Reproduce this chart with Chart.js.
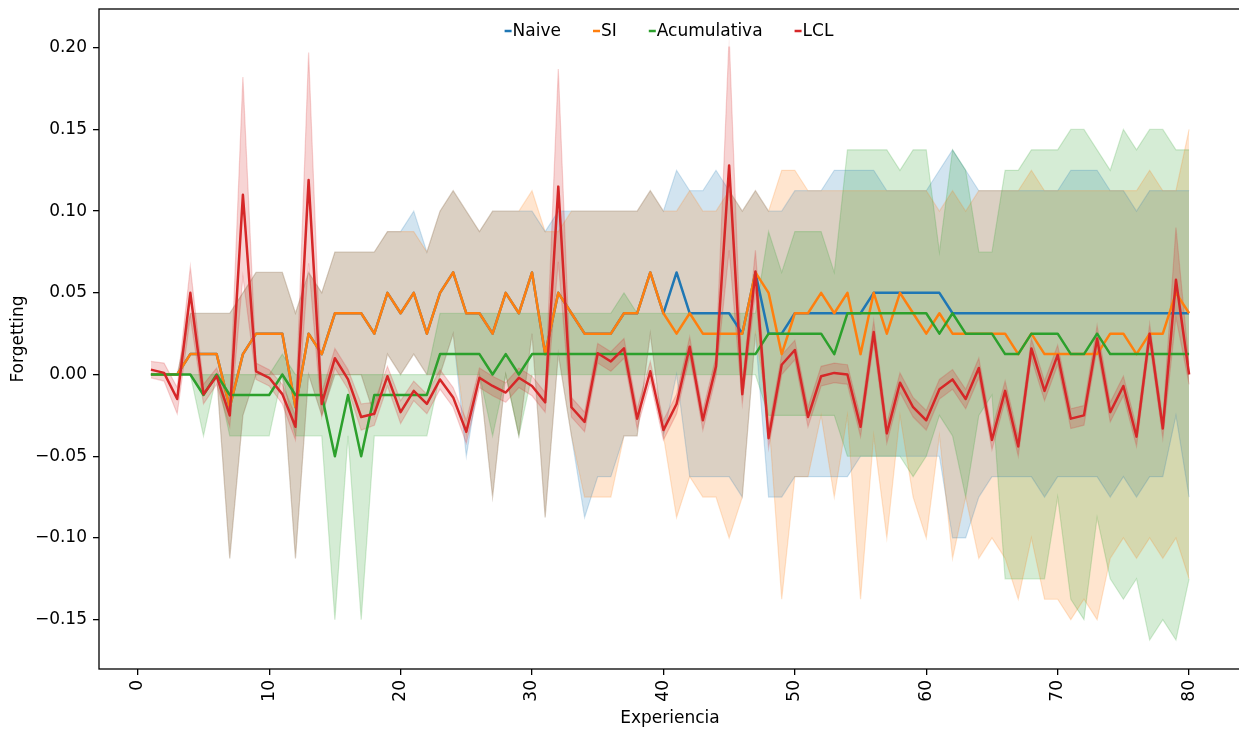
<!DOCTYPE html>
<html>
<head>
<meta charset="utf-8">
<title>Forgetting por experiencia</title>
<script src="https://cdn.jsdelivr.net/npm/chart.js@4/dist/chart.umd.min.js"></script>
<style>
  html, body { margin: 0; padding: 0; background: #fff; overflow: hidden; width: 1239px; height: 730px; }
  canvas { display: block; }
</style>
</head>
<body>
<canvas id="chart" width="1241" height="730"></canvas>
<script>
// Experience index (x axis)
const experiences = [
  1, 2, 3, 4, 5, 6, 7, 8, 9, 10, 11, 12, 13, 14, 15, 16, 17, 18, 19, 20,
  21, 22, 23, 24, 25, 26, 27, 28, 29, 30, 31, 32, 33, 34, 35, 36, 37, 38, 39, 40,
  41, 42, 43, 44, 45, 46, 47, 48, 49, 50, 51, 52, 53, 54, 55, 56, 57, 58, 59, 60,
  61, 62, 63, 64, 65, 66, 67, 68, 69, 70, 71, 72, 73, 74, 75, 76, 77, 78, 79, 80
];

const xTicks = [0, 10, 20, 30, 40, 50, 60, 70, 80];
const yTicks = [-0.15, -0.10, -0.05, 0.00, 0.05, 0.10, 0.15, 0.20];

// Mean forgetting per method
const naive = [
  0, 0, 0, 0.0125, 0.0125, 0.0125, -0.02, 0.0125, 0.025, 0.025,
  0.025, -0.02, 0.025, 0.0125, 0.0375, 0.0375, 0.0375, 0.025, 0.05, 0.0375,
  0.05, 0.025, 0.05, 0.0625, 0.0375, 0.0375, 0.025, 0.05, 0.0375, 0.0625,
  0.0125, 0.05, 0.0375, 0.025, 0.025, 0.025, 0.0375, 0.0375, 0.0625, 0.0375,
  0.0625, 0.0375, 0.0375, 0.0375, 0.0375, 0.025, 0.0625, 0.025, 0.025, 0.0375,
  0.0375, 0.0375, 0.0375, 0.0375, 0.0375, 0.05, 0.05, 0.05, 0.05, 0.05,
  0.05, 0.0375, 0.0375, 0.0375, 0.0375, 0.0375, 0.0375, 0.0375, 0.0375, 0.0375,
  0.0375, 0.0375, 0.0375, 0.0375, 0.0375, 0.0375, 0.0375, 0.0375, 0.0375, 0.0375
];
const si = [
  0, 0, 0, 0.0125, 0.0125, 0.0125, -0.02, 0.0125, 0.025, 0.025,
  0.025, -0.02, 0.025, 0.0125, 0.0375, 0.0375, 0.0375, 0.025, 0.05, 0.0375,
  0.05, 0.025, 0.05, 0.0625, 0.0375, 0.0375, 0.025, 0.05, 0.0375, 0.0625,
  0.0125, 0.05, 0.0375, 0.025, 0.025, 0.025, 0.0375, 0.0375, 0.0625, 0.0375,
  0.025, 0.0375, 0.025, 0.025, 0.025, 0.025, 0.0625, 0.05, 0.0125, 0.0375,
  0.0375, 0.05, 0.0375, 0.05, 0.0125, 0.05, 0.025, 0.05, 0.0375, 0.025,
  0.0375, 0.025, 0.025, 0.025, 0.025, 0.025, 0.0125, 0.025, 0.0125, 0.0125,
  0.0125, 0.0125, 0.0125, 0.025, 0.025, 0.0125, 0.025, 0.025, 0.05, 0.0375
];
const acumulativa = [
  0, 0, 0, 0, -0.0125, 0, -0.0125, -0.0125, -0.0125, -0.0125,
  0, -0.0125, -0.0125, -0.0125, -0.05, -0.0125, -0.05, -0.0125, -0.0125, -0.0125,
  -0.0125, -0.0125, 0.0125, 0.0125, 0.0125, 0.0125, 0, 0.0125, 0, 0.0125,
  0.0125, 0.0125, 0.0125, 0.0125, 0.0125, 0.0125, 0.0125, 0.0125, 0.0125, 0.0125,
  0.0125, 0.0125, 0.0125, 0.0125, 0.0125, 0.0125, 0.0125, 0.025, 0.025, 0.025,
  0.025, 0.025, 0.0125, 0.0375, 0.0375, 0.0375, 0.0375, 0.0375, 0.0375, 0.0375,
  0.025, 0.0375, 0.025, 0.025, 0.025, 0.0125, 0.0125, 0.025, 0.025, 0.025,
  0.0125, 0.0125, 0.025, 0.0125, 0.0125, 0.0125, 0.0125, 0.0125, 0.0125, 0.0125
];
const lcl = [
  0.003, 0.001, -0.015, 0.05, -0.012, -0.001, -0.025, 0.11, 0.002, -0.002,
  -0.012, -0.032, 0.119, -0.018, 0.01, -0.003, -0.026, -0.024, -0.001, -0.023,
  -0.01, -0.018, -0.003, -0.014, -0.035, -0.002, -0.007, -0.011, -0.002, -0.007,
  -0.017, 0.115, -0.02, -0.029, 0.013, 0.008, 0.016, -0.027, 0.002, -0.034,
  -0.018, 0.017, -0.028, 0.005, 0.128, -0.012, 0.063, -0.039, 0.006, 0.015,
  -0.026, -0.001, 0.001, 0.0, -0.032, 0.026, -0.036, -0.005, -0.02, -0.028,
  -0.009, -0.003, -0.015, 0.004, -0.04, -0.01, -0.044, 0.016, -0.01, 0.012,
  -0.027, -0.025, 0.022, -0.023, -0.007, -0.038, 0.025, -0.033, 0.058, 0.0
];

// Confidence band limits per method
const naiveUpper = [
  0, 0, 0, 0.0375, 0.0375, 0.0375, 0.0375, 0.05, 0.0625, 0.0625,
  0.0625, 0.0375, 0.0625, 0.05, 0.075, 0.075, 0.075, 0.075, 0.0875, 0.0875,
  0.1, 0.075, 0.1, 0.1125, 0.1, 0.0875, 0.1, 0.1, 0.1, 0.1,
  0.0875, 0.1, 0.1, 0.1, 0.1, 0.1, 0.1, 0.1, 0.1125, 0.1,
  0.125, 0.1125, 0.1125, 0.125, 0.1125, 0.1, 0.1125, 0.1, 0.1, 0.1125,
  0.1125, 0.1125, 0.125, 0.125, 0.125, 0.125, 0.1125, 0.1125, 0.1125, 0.1125,
  0.125, 0.1375, 0.125, 0.1125, 0.1125, 0.1125, 0.1125, 0.1125, 0.1125, 0.1125,
  0.125, 0.125, 0.125, 0.1125, 0.1125, 0.1, 0.1125, 0.1125, 0.1125, 0.1125
];
const naiveLower = [
  0, 0, 0, 0, -0.0125, 0, -0.1125, -0.025, 0, 0,
  0, -0.1125, 0, -0.025, 0, 0, 0, -0.025, 0.0125, 0,
  0.0125, 0, 0, 0.025, -0.05, 0, -0.075, 0, -0.0375, 0.025,
  -0.0875, 0.0125, -0.0375, -0.0875, -0.0625, -0.0625, -0.0375, -0.0375, 0.025, -0.0375,
  0, -0.0625, -0.0625, -0.0625, -0.0625, -0.075, 0.025, -0.075, -0.075, -0.0625,
  -0.0625, -0.0625, -0.0625, -0.0625, -0.05, -0.05, -0.05, -0.05, -0.05, -0.05,
  -0.05, -0.1, -0.1, -0.075, -0.0625, -0.0625, -0.0625, -0.0625, -0.075, -0.0625,
  -0.0625, -0.0625, -0.0625, -0.075, -0.0625, -0.075, -0.0625, -0.0625, -0.025, -0.075
];
const siUpper = [
  0, 0, 0, 0.0375, 0.0375, 0.0375, 0.0375, 0.05, 0.0625, 0.0625,
  0.0625, 0.0375, 0.0625, 0.05, 0.075, 0.075, 0.075, 0.075, 0.0875, 0.0875,
  0.0875, 0.075, 0.1, 0.1125, 0.1, 0.0875, 0.1, 0.1, 0.1, 0.1125,
  0.0875, 0.0875, 0.1, 0.1, 0.1, 0.1, 0.1, 0.1, 0.1125, 0.1,
  0.1, 0.1125, 0.1, 0.1, 0.1125, 0.1, 0.1125, 0.1, 0.125, 0.125,
  0.1125, 0.1125, 0.1125, 0.1125, 0.1125, 0.1125, 0.1125, 0.1125, 0.1125, 0.1125,
  0.1, 0.1125, 0.1, 0.1125, 0.1125, 0.1125, 0.1125, 0.125, 0.1125, 0.1125,
  0.1125, 0.1125, 0.1125, 0.1125, 0.1125, 0.1125, 0.125, 0.1125, 0.1125, 0.15
];
const siLower = [
  0, 0, 0, 0, -0.0125, 0, -0.1125, -0.025, 0, 0,
  0, -0.1125, 0, -0.025, 0, 0, 0, -0.025, 0.0125, 0,
  0.0125, 0, 0, 0.025, -0.0375, 0, -0.075, 0, -0.0375, 0.025,
  -0.0875, 0.0125, -0.0375, -0.075, -0.075, -0.075, -0.0375, -0.0375, 0.025, -0.0375,
  -0.0875, -0.0625, -0.075, -0.075, -0.1, -0.075, 0.025, -0.025, -0.1375, -0.0625,
  -0.0625, -0.025, -0.075, -0.025, -0.1375, -0.0375, -0.1, -0.025, -0.075, -0.1,
  -0.0375, -0.1125, -0.075, -0.1125, -0.1, -0.1125, -0.1375, -0.1, -0.1375, -0.1375,
  -0.15, -0.1375, -0.15, -0.1125, -0.1, -0.1125, -0.1, -0.1125, -0.1, -0.125
];
const acumulativaUpper = [
  0, 0, 0, 0, 0, 0, 0, 0, 0, 0,
  0.0125, 0, 0, 0, 0, 0, 0, 0, 0, 0,
  0, 0, 0.0375, 0.0375, 0.0375, 0.0375, 0.0375, 0.0375, 0.0375, 0.0375,
  0.0375, 0.0375, 0.0375, 0.0375, 0.0375, 0.0375, 0.05, 0.0375, 0.0375, 0.0375,
  0.0375, 0.0375, 0.0375, 0.0375, 0.0375, 0.0375, 0.0375, 0.0875, 0.0625, 0.0875,
  0.0875, 0.0875, 0.0625, 0.1375, 0.1375, 0.1375, 0.1375, 0.125, 0.1375, 0.1375,
  0.075, 0.1375, 0.125, 0.075, 0.075, 0.125, 0.125, 0.1375, 0.1375, 0.1375,
  0.15, 0.15, 0.1375, 0.125, 0.15, 0.1375, 0.15, 0.15, 0.1375, 0.1375
];
const acumulativaLower = [
  0, 0, 0, 0, -0.0375, 0, -0.0375, -0.0375, -0.0375, -0.0375,
  0, -0.0375, -0.0375, -0.0375, -0.15, -0.0375, -0.15, -0.0375, -0.0375, -0.0375,
  -0.0375, -0.0375, 0, 0, 0, 0, -0.0375, 0, -0.0375, 0,
  0, 0, 0, 0, 0, 0, 0, 0, 0, 0,
  0, 0, 0, 0, 0, 0, 0, -0.025, -0.025, -0.025,
  -0.025, -0.025, -0.025, -0.05, -0.05, -0.05, -0.05, -0.05, -0.0625, -0.05,
  -0.025, -0.0375, -0.075, -0.025, -0.0125, -0.125, -0.125, -0.125, -0.125, -0.075,
  -0.1375, -0.15, -0.0875, -0.125, -0.1375, -0.125, -0.1625, -0.15, -0.1625, -0.125
];
const lclUpper = [
  0.008, 0.007, -0.008, 0.066, -0.006, 0.004, -0.018, 0.182, 0.007, 0.003,
  -0.006, -0.025, 0.197, -0.011, 0.016, 0.003, -0.018, -0.017, 0.005, -0.016,
  -0.004, -0.012, 0.003, -0.008, -0.028, 0.004, -0.001, -0.005, 0.004, -0.001,
  -0.011, 0.187, -0.014, -0.023, 0.019, 0.014, 0.022, -0.021, 0.008, -0.028,
  -0.012, 0.023, -0.022, 0.011, 0.207, -0.006, 0.076, -0.033, 0.012, 0.021,
  -0.02, 0.005, 0.007, 0.006, -0.026, 0.033, -0.03, 0.001, -0.014, -0.022,
  -0.003, 0.003, -0.009, 0.01, -0.034, -0.004, -0.038, 0.022, -0.004, 0.018,
  -0.021, -0.019, 0.03, -0.017, -0.001, -0.032, 0.031, -0.027, 0.09, 0.006
];
const lclLower = [
  -0.002, -0.004, -0.024, 0.035, -0.018, -0.006, -0.032, 0.06, -0.003, -0.007,
  -0.018, -0.04, 0.068, -0.026, 0.004, -0.009, -0.034, -0.031, -0.007, -0.03,
  -0.016, -0.024, -0.009, -0.02, -0.042, -0.008, -0.013, -0.017, -0.008, -0.013,
  -0.023, 0.069, -0.026, -0.035, 0.007, 0.002, 0.01, -0.033, -0.004, -0.04,
  -0.024, 0.011, -0.034, -0.001, 0.076, -0.018, 0.05, -0.045, 0, 0.009,
  -0.032, -0.007, -0.005, -0.006, -0.038, 0.019, -0.042, -0.011, -0.026, -0.034,
  -0.015, -0.009, -0.021, -0.002, -0.046, -0.016, -0.05, 0.01, -0.016, 0.006,
  -0.033, -0.031, 0.016, -0.029, -0.013, -0.044, 0.019, -0.039, 0.035, -0.006
];

const FONT_FAMILY = '"DejaVu Sans", "Liberation Sans", sans-serif';
const TEXT_SIZE = 17;
const RGB = {
  Naive: '31,119,180',
  SI: '255,127,14',
  Acumulativa: '44,160,44',
  LCL: '214,39,40'
};
const legendOrder = ['Naive', 'SI', 'Acumulativa', 'LCL'];

function toPoints(values) {
  return values.map((v, i) => ({ x: experiences[i], y: v }));
}

function meanLine(label, values) {
  return {
    label,
    data: toPoints(values),
    borderColor: `rgb(${RGB[label]})`,
    backgroundColor: `rgb(${RGB[label]})`,
    borderWidth: 2.5,
    borderJoinStyle: 'round',
    borderCapStyle: 'butt',
    pointRadius: 0,
    pointHoverRadius: 0,
    tension: 0,
    fill: false
  };
}

function bandEdge(label, values, fillToNext) {
  return {
    label: label + (fillToNext ? ' sup' : ' inf'),
    data: toPoints(values),
    borderColor: `rgba(${RGB[label]},0.2)`,
    backgroundColor: `rgba(${RGB[label]},0.2)`,
    borderWidth: 1.2,
    pointRadius: 0,
    pointHoverRadius: 0,
    tension: 0,
    fill: fillToNext ? '+1' : false
  };
}

// Lines first (drawn last, on top); bands afterwards, Naive band painted first.
const datasets = [
  meanLine('LCL', lcl),
  meanLine('Acumulativa', acumulativa),
  meanLine('SI', si),
  meanLine('Naive', naive),
  bandEdge('LCL', lclUpper, true),
  bandEdge('LCL', lclLower, false),
  bandEdge('Acumulativa', acumulativaUpper, true),
  bandEdge('Acumulativa', acumulativaLower, false),
  bandEdge('SI', siUpper, true),
  bandEdge('SI', siLower, false),
  bandEdge('Naive', naiveUpper, true),
  bandEdge('Naive', naiveLower, false)
];

// Frame on all four sides of the plotting area
const framePlugin = {
  id: 'frame',
  afterDatasetsDraw(chart) {
    const { ctx, chartArea: a } = chart;
    ctx.save();
    ctx.strokeStyle = '#000';
    ctx.lineWidth = 1.3;
    ctx.strokeRect(a.left, a.top, a.right - a.left, a.bottom - a.top);
    ctx.restore();
  }
};

// Compact one-row legend centred at the top inside the plot
const innerLegendPlugin = {
  id: 'innerLegend',
  afterDraw(chart) {
    const { ctx, chartArea: a } = chart;
    ctx.save();
    ctx.font = `${TEXT_SIZE}px ${FONT_FAMILY}`;
    ctx.textBaseline = 'middle';
    ctx.textAlign = 'left';
    const handle = 7, handleGap = 1, itemGap = 32;
    const widths = legendOrder.map(t => handle + handleGap + ctx.measureText(t).width);
    const total = widths.reduce((s, w) => s + w, 0) + itemGap * (legendOrder.length - 1);
    const cx = (a.left + 1239) / 2;
    const cy = a.top + 22;
    let x = cx - total / 2;
    ctx.fillStyle = 'rgba(255,255,255,0.8)';
    ctx.fillRect(x - 8, cy - 16, total + 16, 31.5);
    legendOrder.forEach((label, i) => {
      ctx.strokeStyle = `rgb(${RGB[label]})`;
      ctx.lineWidth = 2.5;
      ctx.beginPath();
      ctx.moveTo(x, cy);
      ctx.lineTo(x + handle, cy);
      ctx.stroke();
      ctx.fillStyle = '#000';
      ctx.fillText(label, x + handle + handleGap, cy + 1);
      x += widths[i] + itemGap;
    });
    ctx.restore();
  }
};

const tickFont = { family: FONT_FAMILY, size: TEXT_SIZE };

new Chart(document.getElementById('chart'), {
  type: 'line',
  data: { datasets },
  options: {
    responsive: false,
    animation: false,
    devicePixelRatio: 1,
    events: [],
    layout: { padding: { top: 9, left: 0, right: 0, bottom: 0 } },
    plugins: {
      legend: { display: false },
      tooltip: { enabled: false },
      filler: { drawTime: 'beforeDatasetsDraw', propagate: false }
    },
    scales: {
      x: {
        type: 'linear',
        min: -2.95,
        max: 83.95,
        afterBuildTicks(scale) { scale.ticks = xTicks.map(v => ({ value: v })); },
        afterFit(scale) {
          scale.height = 61;
          scale.paddingLeft = 0;
          scale.paddingRight = 0;
        },
        ticks: {
          autoSkip: false,
          minRotation: 90,
          maxRotation: 90,
          padding: 5,
          color: '#000',
          font: tickFont,
          callback: v => String(v)
        },
        grid: {
          display: true,
          drawOnChartArea: false,
          drawTicks: true,
          tickLength: 6,
          color: '#000',
          lineWidth: 1.3
        },
        border: { display: false },
        title: {
          display: true,
          text: 'Experiencia',
          color: '#000',
          font: tickFont,
          padding: { top: 0, bottom: 1 }
        }
      },
      y: {
        type: 'linear',
        min: -0.1802,
        max: 0.2237,
        afterBuildTicks(scale) { scale.ticks = yTicks.map(v => ({ value: v })); },
        afterFit(scale) {
          scale.width = 99;
          scale.paddingTop = 0;
          scale.paddingBottom = 0;
        },
        ticks: {
          padding: 6,
          color: '#000',
          font: tickFont,
          callback: v => {
            const s = Math.abs(v).toFixed(2);
            return (v < -1e-9 ? '\u2212' : '') + s;
          }
        },
        grid: {
          display: true,
          drawOnChartArea: false,
          drawTicks: true,
          tickLength: 6,
          color: '#000',
          lineWidth: 1.3
        },
        border: { display: false },
        title: {
          display: true,
          text: 'Forgetting',
          color: '#000',
          font: tickFont,
          padding: { top: 8, bottom: 0 }
        }
      }
    }
  },
  plugins: [framePlugin, innerLegendPlugin]
});
</script>
</body>
</html>
